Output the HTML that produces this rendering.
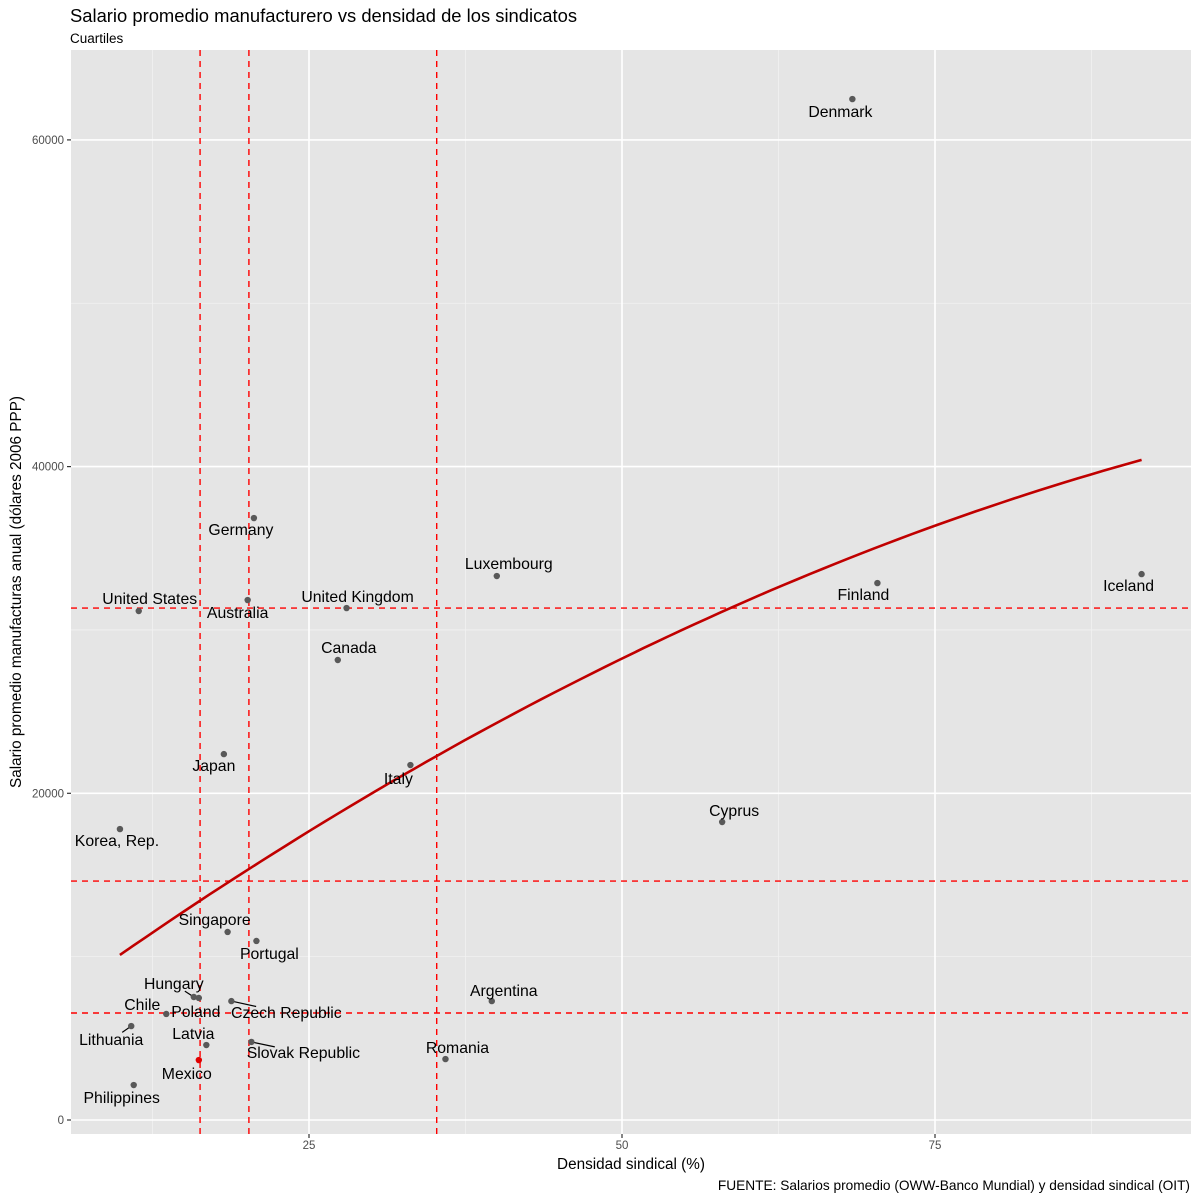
<!DOCTYPE html>
<html><head><meta charset="utf-8"><style>
html,body{margin:0;padding:0;background:#fff;}
svg{display:block;font-family:"Liberation Sans",Arial,sans-serif;}
</style></head><body>
<svg id="chart" width="1200" height="1200" viewBox="0 0 1200 1200">
<text x="70" y="22" font-size="18.4" fill="#000">Salario promedio manufacturero vs densidad de los sindicatos</text>
<text x="70" y="43" font-size="13.5" fill="#000">Cuartiles</text>
<rect x="71" y="50" width="1120" height="1084" fill="#e5e5e5"/>
<g id="grid"></g>
<g id="refs"></g>
<g id="curve"></g>
<g id="pts"></g>
<g id="axes"></g>
<text x="631" y="1169" font-size="15.3" text-anchor="middle" fill="#000">Densidad sindical (%)</text>
<text transform="translate(21,592) rotate(-90)" font-size="15.3" text-anchor="middle" fill="#000">Salario promedio manufacturas anual (dólares 2006 PPP)</text>
<text x="1190" y="1190" font-size="13.7" text-anchor="end" fill="#000">FUENTE: Salarios promedio (OWW-Banco Mundial) y densidad sindical (OIT)</text>
</svg>
<script>
const countries=["Denmark","Finland","Iceland","Luxembourg","Germany","Australia","United Kingdom","United States","Canada","Japan","Italy","Korea, Rep.","Cyprus","Singapore","Portugal","Hungary","Poland","Argentina","Czech Republic","Chile","Lithuania","Latvia","Slovak Republic","Romania","Mexico","Philippines"];
const density=[68.4,70.4,91.5,40.0,20.6,20.1,28.0,11.4,27.3,18.2,33.1,9.9,58.0,18.5,20.8,15.8,16.2,39.6,18.8,13.6,10.8,16.8,20.4,35.9,16.2,11.0];
const wage=[62500,32870,33420,33300,36850,31830,31340,31160,28160,22400,21730,17810,18240,11510,10960,7530,7470,7280,7280,6490,5750,4590,4780,3730,3670,2140];
const vQuartiles=[16.3,20.2,35.2];
const hQuartiles=[31340,14630,6550];
const xTicks=[25,50,75];
const yTicks=[0,20000,40000,60000];
const xMinor=[12.5,37.5,62.5,87.5];
const yMinor=[10000,30000,50000];
const lab={"Denmark":[-12,13],"Finland":[-14,12],"Iceland":[-13,12],"Luxembourg":[12,-12],"Germany":[-13,12],"Australia":[-10,13],"United Kingdom":[11,-11],"United States":[11,-12],"Canada":[11,-12],"Japan":[-10,12],"Italy":[-12,14],"Korea, Rep.":[-3,12],"Cyprus":[12,-11],"Singapore":[-13,-12],"Portugal":[13,13],"Hungary":[-20,-13,1],"Poland":[-3,14],"Argentina":[12,-10],"Czech Republic":[55,12,1],"Chile":[-24,-9],"Lithuania":[-20,14,1],"Latvia":[-13,-11],"Slovak Republic":[52,11,1],"Romania":[12,-11],"Mexico":[-12,14],"Philippines":[-12,13]};
const X=v=>309+(v-25)*12.52;
const Y=v=>1120-v*(326.7/20000);
const L=71,R=1191,T=50,B=1134;
const NS="http://www.w3.org/2000/svg";
function mk(tag,attrs,parent){const e=document.createElementNS(NS,tag);for(const k in attrs)e.setAttribute(k,attrs[k]);parent.appendChild(e);return e;}
const grid=document.getElementById('grid'),refs=document.getElementById('refs'),cg=document.getElementById('curve'),pg=document.getElementById('pts'),ax=document.getElementById('axes');
xMinor.forEach(v=>{const e=mk('line',{x1:X(v),x2:X(v),y1:T,y2:B,stroke:'#f2f2f2','stroke-width':0.8},grid);

});
yMinor.forEach(v=>{const e=mk('line',{x1:L,x2:R,y1:Y(v),y2:Y(v),stroke:'#f2f2f2','stroke-width':0.8},grid);

});
xTicks.forEach(v=>{const e=mk('line',{x1:X(v),x2:X(v),y1:T,y2:B,stroke:'#fff','stroke-width':1.6},grid);


const t=mk('line',{x1:X(v),x2:X(v),y1:B,y2:B+4,stroke:'#333','stroke-width':1.2},ax);


const tx=mk('text',{x:X(v),y:B+15,'font-size':11.5,'text-anchor':'middle',fill:'#4d4d4d'},ax);tx.textContent=v;

});
yTicks.forEach(v=>{const e=mk('line',{x1:L,x2:R,y1:Y(v),y2:Y(v),stroke:'#fff','stroke-width':1.6},grid);


const t=mk('line',{x1:L-4,x2:L,y1:Y(v),y2:Y(v),stroke:'#333','stroke-width':1.2},ax);


const tx=mk('text',{x:L-7,y:Y(v)+4,'font-size':11.5,'text-anchor':'end',fill:'#4d4d4d'},ax);tx.textContent=v;

});
vQuartiles.forEach(v=>{const e=mk('line',{x1:X(v),x2:X(v),y1:T,y2:B,stroke:'#ff0000','stroke-width':1.4,'stroke-dasharray':'6,5'},refs);

});
hQuartiles.forEach(v=>{const e=mk('line',{x1:L,x2:R,y1:Y(v),y2:Y(v),stroke:'#ff0000','stroke-width':1.4,'stroke-dasharray':'6,5'},refs);

});
(function(){const n=density.length;let S=[0,0,0,0,0],Ty=[0,0,0];
for(let i=0;i<n;i++){const x=density[i],y=wage[i];for(let k=0;k<5;k++)S[k]+=Math.pow(x,k);for(let k=0;k<3;k++)Ty[k]+=y*Math.pow(x,k);}
const M=[[S[0],S[1],S[2],Ty[0]],[S[1],S[2],S[3],Ty[1]],[S[2],S[3],S[4],Ty[2]]];
for(let i=0;i<3;i++){for(let j=i+1;j<3;j++){const f=M[j][i]/M[i][i];for(let k=i;k<4;k++)M[j][k]-=f*M[i][k];}}
const c=[0,0,0];for(let i=2;i>=0;i--){let s=M[i][3];for(let k=i+1;k<3;k++)s-=M[i][k]*c[k];c[i]=s/M[i][i];}
const mn=Math.min(...density),mx=Math.max(...density);let d='';
for(let i=0;i<=80;i++){const x=mn+(mx-mn)*i/80,y=c[0]+c[1]*x+c[2]*x*x;d+=(i?'L':'M')+X(x).toFixed(1)+','+Y(y).toFixed(1);}
const p=mk('path',{d:d,fill:'none',stroke:'#c00000','stroke-width':2.6},cg);

})();
countries.forEach((c,i)=>{const px=X(density[i]),py=Y(wage[i]);const o=lab[c]||[0,12];
if(o[2]){const s=mk('line',{x1:px,y1:py,x2:px+o[0]*0.45,y2:py+o[1]*0.45,stroke:'#000','stroke-width':1.2},pg);

}
const pt=mk('circle',{cx:px,cy:py,r:3.2,fill:c==="Mexico"?'#e00000':'#595959'},pg);


const t=mk('text',{x:px+o[0],y:py+o[1]+5,'font-size':15.8,'text-anchor':'middle',fill:'#000'},pg);t.textContent=c;

});
</script>
</body></html>
